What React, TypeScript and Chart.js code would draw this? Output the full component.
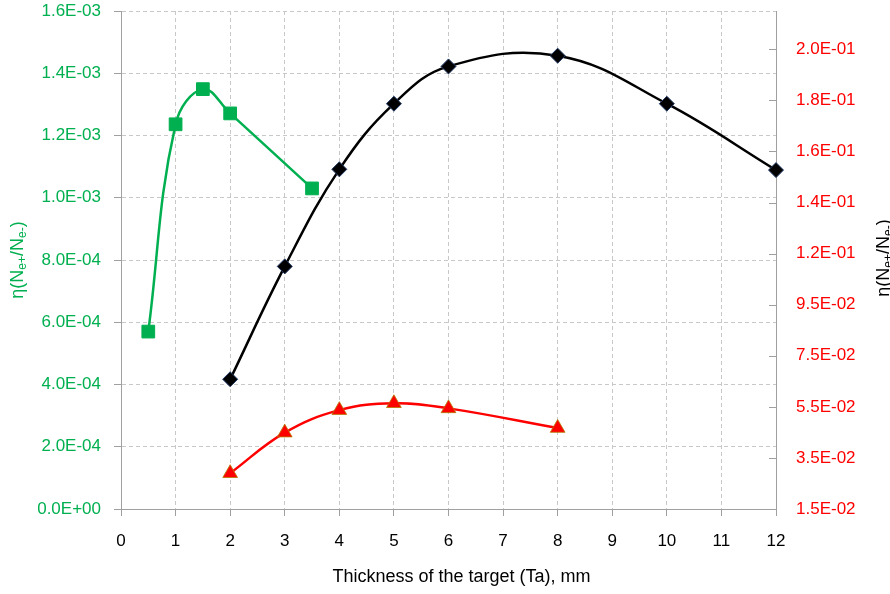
import React, { useEffect, useRef } from "react";
import { Chart, registerables } from "chart.js";

Chart.register(...registerables);

const greenX = [0.5, 1, 1.5, 2, 3.5];
const greenY = [5.7e-4, 1.236e-3, 1.349e-3, 1.271e-3, 1.03e-3];
const blackX = [2, 3, 4, 5, 6, 8, 10, 12];
const blackY = [0.0658, 0.11, 0.148, 0.1737, 0.1883, 0.1925, 0.1737, 0.1477];
const redX = [2, 3, 4, 5, 6, 8];
const redY = [0.029, 0.0449, 0.0537, 0.0564, 0.0544, 0.0467];

const leftTickLabels = ["0.0E+00", "2.0E-04", "4.0E-04", "6.0E-04", "8.0E-04", "1.0E-03", "1.2E-03", "1.4E-03", "1.6E-03"];
const rightTickValues = [0.015, 0.035, 0.055, 0.075, 0.095, 0.115, 0.135, 0.155, 0.175, 0.195];
const rightTickLabels = ["1.5E-02", "3.5E-02", "5.5E-02", "7.5E-02", "9.5E-02", "1.2E-01", "1.4E-01", "1.6E-01", "1.8E-01", "2.0E-01"];
const xTitle = "Thickness of the target (Ta), mm";

const FONT = "'Liberation Sans', Arial, sans-serif";
const GREEN = "#00b050";
const RED = "#ff0000";
const AXIS = "#a0a0a0";
const GRID = "#c8c8c8";

function pts(xs: number[], ys: number[]) {
  return xs.map((x, i) => ({ x, y: ys[i] }));
}

function drawEtaTitle(ctx: CanvasRenderingContext2D, cx: number, cy: number, color: string) {
  const parts: { t: string; sub: boolean }[] = [
    { t: "η(N", sub: false },
    { t: "e+", sub: true },
    { t: "/N", sub: false },
    { t: "e-", sub: true },
    { t: ")", sub: false },
  ];
  const big = `18px ${FONT}`;
  const small = `12px ${FONT}`;
  ctx.save();
  ctx.translate(cx, cy);
  ctx.rotate(-Math.PI / 2);
  ctx.fillStyle = color;
  ctx.textBaseline = "middle";
  ctx.textAlign = "left";
  let total = 0;
  for (const p of parts) {
    ctx.font = p.sub ? small : big;
    total += ctx.measureText(p.t).width;
  }
  let x = -total / 2;
  for (const p of parts) {
    ctx.font = p.sub ? small : big;
    ctx.fillText(p.t, x, p.sub ? 5 : 0);
    x += ctx.measureText(p.t).width;
  }
  ctx.restore();
}

const titlesPlugin = {
  id: "customTitles",
  afterDraw(chart: any) {
    const ctx = chart.ctx as CanvasRenderingContext2D;
    const ca = chart.chartArea;
    const yR = chart.scales.yRight;
    // inward tick marks on the right axis
    ctx.save();
    ctx.strokeStyle = AXIS;
    ctx.lineWidth = 1;
    for (const t of yR.ticks) {
      const py = Math.round(yR.getPixelForValue(t.value)) + 0.5;
      ctx.beginPath();
      ctx.moveTo(ca.right - 7, py);
      ctx.lineTo(ca.right, py);
      ctx.stroke();
    }
    ctx.restore();
    const midY = (ca.top + ca.bottom) / 2;
    drawEtaTitle(ctx, 18, midY, GREEN);
    drawEtaTitle(ctx, 884, midY - 2, "#000000");
    ctx.save();
    ctx.font = `18px ${FONT}`;
    ctx.fillStyle = "#000000";
    ctx.textAlign = "center";
    ctx.textBaseline = "middle";
    ctx.fillText(xTitle, (ca.left + ca.right) / 2 + 13, 577);
    ctx.restore();
  },
};

export default function App() {
  const ref = useRef<HTMLCanvasElement | null>(null);
  useEffect(() => {
    if (!ref.current) return;
    const chart = new Chart(ref.current, {
      type: "line",
      data: {
        datasets: [
          {
            label: "green",
            data: pts(greenX, greenY),
            yAxisID: "yLeft",
            borderColor: GREEN,
            backgroundColor: GREEN,
            borderWidth: 2.5,
            pointStyle: "rect",
            pointRadius: 9,
            pointBorderColor: GREEN,
            pointBorderWidth: 1,
            tension: 0.4,
            clip: false,
          },
          {
            label: "black",
            data: pts(blackX, blackY),
            yAxisID: "yRight",
            borderColor: "#000000",
            backgroundColor: "#000000",
            borderWidth: 2.5,
            pointStyle: "rectRot",
            pointRadius: 7.5,
            pointBorderColor: "#1f3864",
            pointBorderWidth: 1,
            tension: 0.4,
            clip: false,
          },
          {
            label: "red",
            data: pts(redX, redY),
            yAxisID: "yRight",
            borderColor: RED,
            backgroundColor: RED,
            borderWidth: 2.5,
            pointStyle: "triangle",
            pointRadius: 8.5,
            pointBorderColor: "rgba(180,120,0,0.8)",
            pointBorderWidth: 1,
            tension: 0.4,
            clip: false,
          },
        ],
      },
      options: {
        responsive: false,
        animation: false,
        layout: { padding: { top: 11, left: 0, right: 0, bottom: 0 } },
        plugins: { legend: { display: false }, tooltip: { enabled: false } },
        scales: {
          x: {
            type: "linear",
            min: 0,
            max: 12,
            afterFit: (s: any) => {
              s.height = 85;
              s.paddingLeft = 0;
              s.paddingRight = 0;
            },
            ticks: {
              stepSize: 1,
              color: "#000000",
              font: { family: FONT, size: 17 },
              padding: 15,
            },
            grid: {
              color: GRID,
              tickColor: AXIS,
              tickLength: 7,
              tickBorderDash: [],
            },
            border: { display: true, color: AXIS, width: 1, dash: [4, 3] },
          },
          yLeft: {
            type: "linear",
            position: "left",
            min: 0,
            max: 0.0016,
            afterFit: (s: any) => {
              s.width = 121;
              s.paddingTop = 0;
              s.paddingBottom = 0;
            },
            ticks: {
              stepSize: 0.0002,
              color: GREEN,
              font: { family: FONT, size: 17 },
              padding: 13,
              callback: (_v: any, i: number) => leftTickLabels[i],
            },
            grid: {
              color: GRID,
              tickColor: AXIS,
              tickLength: 7,
              tickBorderDash: [],
            },
            border: { display: true, color: AXIS, width: 1, dash: [4, 3] },
          },
          yRight: {
            type: "linear",
            position: "right",
            min: 0.015,
            max: 0.21,
            afterFit: (s: any) => {
              s.width = 114;
              s.paddingTop = 0;
              s.paddingBottom = 0;
            },
            afterBuildTicks: (s: any) => {
              s.ticks = rightTickValues.map((v) => ({ value: v }));
            },
            ticks: {
              color: RED,
              font: { family: FONT, size: 17 },
              padding: 20,
              callback: (_v: any, i: number) => rightTickLabels[i],
            },
            grid: { drawOnChartArea: false, drawTicks: false },
            border: { display: true, color: AXIS, width: 1 },
          },
        },
      },
      plugins: [titlesPlugin],
    } as any);
    return () => chart.destroy();
  }, []);
  return (
    <div style={{ position: "fixed", left: 0, top: 0, width: 890, height: 594, background: "#fff" }}>
      <canvas ref={ref} width={890} height={594} style={{ display: "block" }} />
    </div>
  );
}
